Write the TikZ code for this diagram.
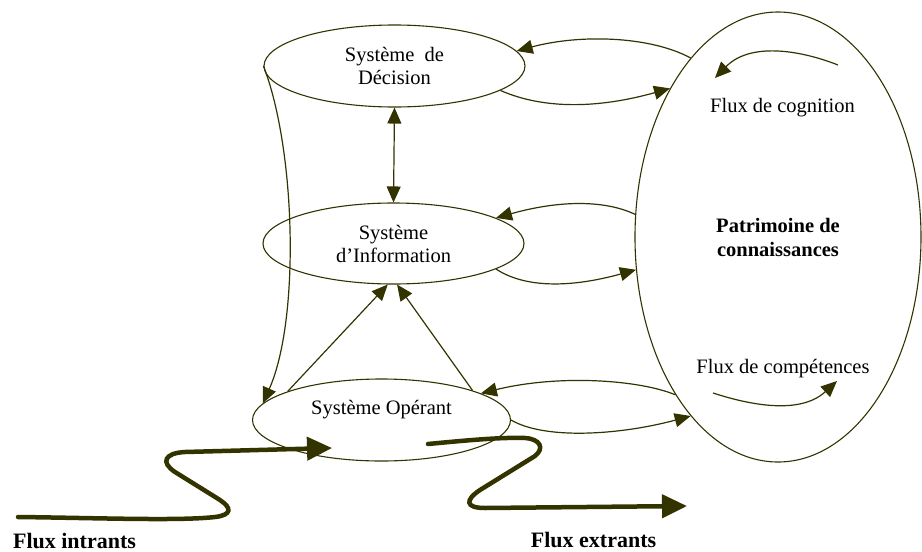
\documentclass[tikz,border=0pt]{standalone}
\usepackage{fontspec}
\setmainfont{Liberation Serif}
\usetikzlibrary{shapes.geometric,arrows.meta}
\definecolor{flowline}{RGB}{51,51,0}
\begin{document}
\begin{tikzpicture}[x=1pt,y=-1pt,
  sysbox/.style={ellipse, draw=flowline, line width=1.1pt, inner sep=0pt,
    align=center, font=\fontsize{20.5}{23}\selectfont},
  lbl/.style={inner sep=0pt, align=center, font=\fontsize{20.5}{23}\selectfont},
  flowlbl/.style={inner sep=0pt, font=\fontsize{22}{26}\selectfont\bfseries},
  link/.style={draw=flowline, line width=1.2pt, -{Triangle[length=16pt,width=14pt]}},
  bothlink/.style={draw=flowline, line width=1.2pt,
    {Triangle[length=16pt,width=14pt]}-{Triangle[length=16pt,width=14pt]}},
  bigflow/.style={draw=flowline, line width=4.5pt, line cap=round,
    -{Triangle[length=25pt,width=23pt]}}
]
\useasboundingbox (0,0) rectangle (922,552);

% the three subsystems
\node[sysbox, minimum width=261pt, minimum height=82pt] (dec) at (394.5,66)
  {Système\hspace{0.5em}de\\Décision};
\node[sysbox, minimum width=261pt, minimum height=81pt] (inf) at (393.5,243.5)
  {Système\\d’Information};
\node[sysbox, minimum width=258pt, minimum height=82pt] (ope) at (381.5,420) {};
\node[lbl] (opetext) at (381.5,410) {Système Opérant};

% knowledge base
\node[sysbox, minimum width=286pt, minimum height=450pt, font=\fontsize{20.5}{24}\selectfont\bfseries]
  (pat) at (778,237) {Patrimoine de\\connaissances};
\node[lbl, anchor=base] (cog) at (782.5,112) {Flux de cognition};
\node[lbl, anchor=base] (comp) at (783,373) {Flux de compétences};

% links between subsystems
\draw[bothlink] (dec.south) -- (inf.north);
\draw[link] (dec.west) .. controls (296,150) and (300,320) .. (ope.172.8);
\draw[link] (ope.163) -- (inf.262);
\draw[link] (ope.18) -- (inf.275);

% exchanges with the knowledge base
\draw[link] (pat.116) .. controls (650,36) and (580,34) .. (dec.7);
\draw[link] (dec.-13) .. controls (545,110) and (600,108) .. (pat.126);
\draw[link] (pat.171) .. controls (605,200) and (560,200) .. (inf.14);
\draw[link] (inf.-14.5) .. controls (525,288) and (570,288) .. (pat.193);
\draw[link] (pat.237) .. controls (640,380) and (560,374) .. (ope.15);
\draw[link] (ope.east) .. controls (545,440) and (620,435) .. (pat.244);

% inner flows of the knowledge base
\coordinate (cogA) at (838,65);
\coordinate (cogB) at (715,78);
\draw[link] (cogA) .. controls (800,50) and (750,42) .. (cogB);
\coordinate (compA) at (713,393);
\coordinate (compB) at (837,381);
\draw[link] (compA) .. controls (750,405) and (800,415) .. (compB);

% incoming and outgoing flows
\coordinate (inA) at (18,517);
\coordinate (inB) at (332,448);
\draw[bigflow] (inA) .. controls (100,518) and (180,521) .. (215,517)
  .. controls (232,515) and (232,508) .. (220,500) -- (175,472)
  .. controls (160,462) and (165,453) .. (185,452) -- (inB);
\coordinate (outA) at (428,444);
\coordinate (outB) at (687,506);
\draw[bigflow] (outA) .. controls (460,441) and (500,437) .. (525,438)
  .. controls (540,439) and (545,448) .. (535,456) -- (480,490)
  .. controls (465,500) and (465,508) .. (485,508) -- (outB);

\node[flowlbl] (inlbl) at (74.5,541) {Flux intrants};
\node[flowlbl] (outlbl) at (593.5,540) {Flux extrants};
\end{tikzpicture}
\end{document}
